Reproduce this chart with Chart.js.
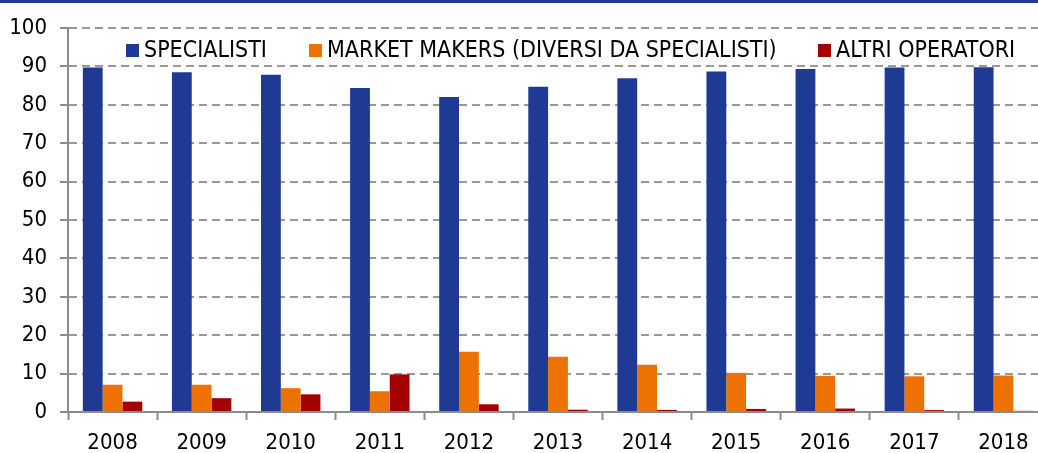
<!DOCTYPE html>
<html>
<head>
<meta charset="utf-8">
<script src="https://cdn.jsdelivr.net/npm/chart.js@4.4.1/dist/chart.umd.min.js"></script>
<style>
  html, body { margin: 0; padding: 0; background: #fff; overflow: hidden; }
  #wrap { position: relative; width: 1038px; height: 453px; overflow: hidden; }
  #band { position: absolute; left: 0; top: 0; width: 1038px; height: 3px; background: #1f3a8f; }
  #chart { position: absolute; left: 0; top: 0; }
  .leg { position: absolute; top: 38px; font-size: 23px; line-height: 23px; font-family: "DejaVu Sans Condensed", "DejaVu Sans", sans-serif; color: #000; white-space: nowrap; padding-left: 18px; }
  .leg i { position: absolute; left: 0; top: 6px; width: 13px; height: 13px; }
</style>
</head>
<body>
<div id="wrap">
  <div id="band"></div>
  <canvas id="chart" width="1050" height="453"></canvas>
  <div id="legend"></div>
</div>
<script>
// data
const years = ['2008', '2009', '2010', '2011', '2012', '2013', '2014', '2015', '2016', '2017', '2018'];
const specialisti = [89.7, 88.5, 87.8, 84.4, 82.0, 84.7, 86.9, 88.7, 89.3, 89.7, 89.8];
const marketMakers = [7.1, 7.1, 6.2, 5.4, 15.7, 14.4, 12.3, 10.2, 9.4, 9.3, 9.5];
const altriOperatori = [2.7, 3.6, 4.6, 9.8, 2.0, 0.6, 0.55, 0.8, 0.9, 0.5, 0.3];

const seriesNames = ['SPECIALISTI', 'MARKET MAKERS (DIVERSI DA SPECIALISTI)', 'ALTRI OPERATORI'];
const seriesColors = ['#1f3a93', '#ee7203', '#a30000'];
const legendLeft = [126, 309, 818];

const axisGrey = '#8c8c8c';
const tickFont = { family: '"DejaVu Sans Condensed", "DejaVu Sans", sans-serif', size: 22 };

// legend drawn as html, sits over the plot area like in the original
const legendBox = document.getElementById('legend');
seriesNames.forEach((name, i) => {
    const item = document.createElement('div');
    item.className = 'leg';
    item.style.left = legendLeft[i] + 'px';
    item.innerHTML = '<i style="background:' + seriesColors[i] + '"></i>' + name;
    legendBox.appendChild(item);
});

const config = {
    type: 'bar',
    data: {
        labels: years,
        datasets: [specialisti, marketMakers, altriOperatori].map((values, i) => ({
            label: seriesNames[i],
            data: values,
            backgroundColor: seriesColors[i],
            borderWidth: 0,
            categoryPercentage: 0.667,
            barPercentage: 1.0
        }))
    },
    options: {
        responsive: false,
        animation: false,
        devicePixelRatio: 1,
        layout: { padding: { top: 28, right: 2, left: 0, bottom: 0 } },
        plugins: {
            legend: { display: false },
            tooltip: { enabled: false }
        },
        scales: {
            x: {
                grid: {
                    drawOnChartArea: false,
                    drawTicks: true,
                    offset: true,
                    tickLength: 8,
                    tickColor: axisGrey,
                    tickWidth: 2
                },
                border: { color: axisGrey, width: 2 },
                ticks: { color: '#000', font: tickFont, padding: 10, maxRotation: 0 },
                afterFit: (scale) => { scale.height = 41; }
            },
            y: {
                min: 0,
                max: 100,
                ticks: { stepSize: 10, color: '#000', font: tickFont, padding: 13 },
                grid: {
                    color: '#999',
                    lineWidth: 2,
                    tickLength: 8,
                    tickColor: axisGrey,
                    tickWidth: 2,
                    tickBorderDash: []
                },
                border: { color: axisGrey, width: 2, dash: [8, 5] },
                afterFit: (scale) => { scale.width = 68; }
            }
        }
    }
};

new Chart(document.getElementById('chart'), config);
</script>
</body>
</html>
